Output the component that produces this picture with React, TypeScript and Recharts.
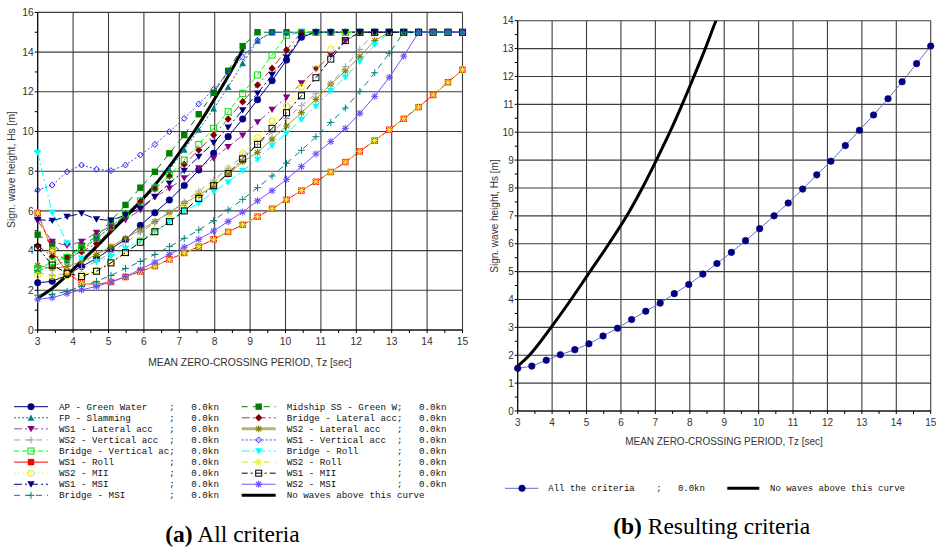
import React from 'react';
import { LineChart, Line, XAxis, YAxis, ReferenceLine } from 'recharts';

// ---------- data ----------
const tzValues = [3, 3.41, 3.83, 4.24, 4.66, 5.07, 5.48, 5.9, 6.31, 6.72, 7.14, 7.55, 7.97, 8.38, 8.79, 9.21, 9.62, 10.03, 10.45, 10.86, 11.28, 11.69, 12.1, 12.52, 12.93, 13.34, 13.76, 14.17, 14.59, 15];

const apGreenWater = [2.38, 2.45, 2.77, 3.2, 3.6, 4.1, 4.55, 5.27, 5.91, 6.55, 7.28, 8.06, 8.9, 9.74, 10.63, 11.6, 12.56, 13.6, 14.75, 15, 15, 15, 15, 15, 15, 15, 15, 15, 15, 15];
const fpSlamming = [3.0, 3.2, 3.5, 4.0, 4.6, 5.2, 5.85, 6.55, 7.3, 8.06, 9.08, 10.08, 11.15, 12.24, 13.43, 14.57, 15, 15, 15, 15, 15, 15, 15, 15, 15, 15, 15, 15, 15, 15];
const ws1LateralAcc = [5.5, 4.45, 4.25, 4.45, 4.9, 5.2, 5.55, 6.05, 6.7, 7.14, 7.65, 8.15, 8.65, 9.23, 9.8, 10.47, 11.1, 11.72, 12.43, 13.13, 13.85, 14.55, 15, 15, 15, 15, 15, 15, 15, 15];
const ws2VerticalAcc = [2.9, 2.75, 2.85, 3.1, 3.45, 3.9, 4.4, 4.9, 5.4, 5.9, 6.45, 7.0, 7.55, 8.15, 8.75, 9.35, 9.95, 10.65, 11.3, 11.9, 12.4, 13.27, 14.14, 15, 15, 15, 15, 15, 15, 15];
const bridgeVerticalAc = [3.06, 3.44, 3.66, 4.12, 4.62, 5.2, 5.85, 6.5, 7.15, 7.81, 8.56, 9.35, 10.16, 11.0, 11.92, 12.85, 13.85, 14.85, 15, 15, 15, 15, 15, 15, 15, 15, 15, 15, 15, 15];
const ws1Roll = [5.9, 4.0, 2.9, 2.35, 2.3, 2.42, 2.67, 2.95, 3.22, 3.56, 3.88, 4.2, 4.57, 4.94, 5.3, 5.71, 6.11, 6.56, 7.02, 7.47, 7.96, 8.46, 9.0, 9.54, 10.09, 10.64, 11.23, 11.84, 12.48, 13.11];
const ws2Mii = [2.75, 2.7, 2.72, 2.8, 3.0, 3.4, 3.92, 4.5, 5.05, 5.6, 6.2, 6.85, 7.44, 8.15, 8.9, 9.69, 10.53, 11.28, 12.23, 13.18, 14.14, 15, 15, 15, 15, 15, 15, 15, 15, 15];
const ws1Msi = [5.56, 5.51, 5.71, 5.88, 5.58, 5.52, 5.79, 6.13, 6.72, 7.39, 8.03, 8.73, 9.44, 10.21, 11.08, 11.92, 12.85, 13.73, 14.8, 15, 15, 15, 15, 15, 15, 15, 15, 15, 15, 15];
const bridgeMsi = [1.75, 1.8, 1.95, 2.2, 2.45, 2.75, 3.1, 3.45, 3.8, 4.2, 4.62, 5.04, 5.51, 6.05, 6.58, 7.17, 7.76, 8.4, 9.05, 9.74, 10.46, 11.18, 12.02, 12.96, 13.94, 15, 15, 15, 15, 15];
const midshipGreenW = [4.8, 4.35, 3.65, 4.25, 4.7, 5.5, 6.3, 7.17, 7.97, 8.9, 9.82, 10.87, 11.95, 13.06, 14.3, 15, 15, 15, 15, 15, 15, 15, 15, 15, 15, 15, 15, 15, 15, 15];
const bridgeLateralAcc = [4.25, 3.7, 3.65, 3.95, 4.35, 5.05, 5.85, 6.45, 7.1, 7.76, 8.35, 9.07, 9.82, 10.63, 11.5, 12.34, 13.18, 14.1, 15, 15, 15, 15, 15, 15, 15, 15, 15, 15, 15, 15];
const ws2LateralAcc = [3.25, 3.1, 3.2, 3.44, 3.8, 4.2, 4.62, 5.04, 5.46, 5.92, 6.38, 6.8, 7.25, 7.85, 8.48, 8.95, 9.61, 10.28, 10.95, 11.62, 12.39, 13.05, 13.77, 14.58, 15, 15, 15, 15, 15, 15];
const ws1VerticalAcc = [7.05, 7.3, 7.97, 8.31, 8.1, 8.03, 8.31, 8.82, 9.35, 9.99, 10.66, 11.39, 12.12, 12.95, 13.75, 14.6, 15, 15, 15, 15, 15, 15, 15, 15, 15, 15, 15, 15, 15, 15];
const bridgeRoll = [8.93, 5.92, 4.37, 3.61, 3.44, 3.69, 4.11, 4.53, 4.95, 5.46, 6.0, 6.38, 6.97, 7.44, 8.02, 8.6, 9.29, 9.91, 10.6, 11.27, 12.04, 12.73, 13.52, 14.36, 15, 15, 15, 15, 15, 15];
const ws2Roll = [5.9, 4.0, 2.9, 2.35, 2.3, 2.42, 2.67, 2.95, 3.22, 3.56, 3.88, 4.2, 4.57, 4.94, 5.3, 5.71, 6.11, 6.56, 7.02, 7.47, 7.96, 8.46, 9.0, 9.54, 10.09, 10.64, 11.23, 11.84, 12.48, 13.11];
const ws1Mii = [4.15, 3.27, 2.86, 2.7, 2.96, 3.38, 3.9, 4.42, 4.95, 5.46, 6.0, 6.63, 7.27, 7.89, 8.62, 9.35, 10.16, 10.95, 11.8, 12.71, 13.65, 14.58, 15, 15, 15, 15, 15, 15, 15, 15];
const ws2Msi = [1.55, 1.63, 1.84, 2.02, 2.2, 2.42, 2.7, 3.05, 3.42, 3.81, 4.17, 4.57, 4.99, 5.47, 5.94, 6.51, 7.02, 7.59, 8.23, 8.87, 9.49, 10.16, 10.92, 11.77, 12.73, 13.8, 15, 15, 15, 15];

const allCriteria = [1.53, 1.61, 1.82, 2.02, 2.2, 2.41, 2.69, 2.97, 3.28, 3.58, 3.87, 4.21, 4.54, 4.91, 5.29, 5.69, 6.11, 6.54, 7.0, 7.46, 7.96, 8.47, 8.96, 9.52, 10.07, 10.62, 11.2, 11.81, 12.46, 13.09];

const limitTz = [3, 3.34, 3.97, 4.55, 5.1, 5.65, 6.17, 6.62, 7.03, 7.42, 7.78, 8.12, 8.45, 8.76, 8.81];
const limitHs = [1.61, 2, 3, 4, 5, 6, 7, 8, 9, 10, 11, 12, 13, 14, 14.15];

// grid values and tick values (minor ticks carry no label)
const xGrid = [3, 4, 5, 6, 7, 8, 9, 10, 11, 12, 13, 14, 15];
const xTicksMinor = [3, 3.5, 4, 4.5, 5, 5.5, 6, 6.5, 7, 7.5, 8, 8.5, 9, 9.5, 10, 10.5, 11, 11.5, 12, 12.5, 13, 13.5, 14, 14.5, 15];
const yGridLeft = [0, 2, 4, 6, 8, 10, 12, 14, 16];
const yTicksLeft = [0, 1, 2, 3, 4, 5, 6, 7, 8, 9, 10, 11, 12, 13, 14, 15, 16];
const yGridRight = [0, 1, 2, 3, 4, 5, 6, 7, 8, 9, 10, 11, 12, 13, 14];
const yTicksRight = [0, 0.5, 1, 1.5, 2, 2.5, 3, 3.5, 4, 4.5, 5, 5.5, 6, 6.5, 7, 7.5, 8, 8.5, 9, 9.5, 10, 10.5, 11, 11.5, 12, 12.5, 13, 13.5, 14];

const xTitle = 'MEAN ZERO-CROSSING PERIOD, Tz [sec]';
const yTitle = 'Sign. wave height, Hs [m]';
const speedText = '0.0kn';
const limitName = 'No waves above this curve';
const allName = 'All the criteria';

type Marker = 'circle' | 'circleOpen' | 'triUp' | 'triDown' | 'plus' | 'sqOpen' | 'sqFilled' | 'diamond' | 'diamondOpen' | 'star';

interface SeriesDef {
  key: string;
  name: string;
  values: number[];
  color: string;
  lineColor: string;
  dash?: string;
  marker: Marker;
  legendWidth?: number;
  legendColor?: string;
}

const col1: SeriesDef[] = [
  { key: 's1', name: 'AP - Green Water', values: apGreenWater, color: '#000080', lineColor: '#000080', marker: 'circle' },
  { key: 's2', name: 'FP - Slamming', values: fpSlamming, color: '#008080', lineColor: '#008080', dash: '2 2', marker: 'triUp' },
  { key: 's3', name: 'WS1 - Lateral acc', values: ws1LateralAcc, color: '#800080', lineColor: '#a040a0', dash: '8 3 2 3', marker: 'triDown' },
  { key: 's4', name: 'WS2 - Vertical acc', values: ws2VerticalAcc, color: '#a0a0a4', lineColor: '#a0a0a4', dash: '6 5', marker: 'plus' },
  { key: 's5', name: 'Bridge - Vertical ac', values: bridgeVerticalAc, color: '#00e000', lineColor: '#00ff00', dash: '5 3', marker: 'sqOpen' },
  { key: 's6', name: 'WS1 - Roll', values: ws1Roll, color: '#ff0000', lineColor: '#ff0000', marker: 'sqFilled' },
  { key: 's7', name: 'WS2 - MII', values: ws2Mii, color: '#e8e800', lineColor: '#ffff00', dash: '2 2', marker: 'circleOpen' },
  { key: 's8', name: 'WS1 - MSI', values: ws1Msi, color: '#000080', lineColor: '#000080', dash: '8 3 2 3', marker: 'triDown' },
  { key: 's9', name: 'Bridge - MSI', values: bridgeMsi, color: '#008080', lineColor: '#008080', dash: '6 5', marker: 'plus' },
];

const col2: SeriesDef[] = [
  { key: 's10', name: 'Midship SS - Green W', values: midshipGreenW, color: '#008000', lineColor: '#008000', dash: '6 5', marker: 'sqFilled' },
  { key: 's11', name: 'Bridge - Lateral acc', values: bridgeLateralAcc, color: '#800000', lineColor: '#a04040', dash: '8 3 2 3', marker: 'diamond' },
  { key: 's12', name: 'WS2 - Lateral acc', values: ws2LateralAcc, color: '#808000', lineColor: '#9c9c40', marker: 'star', legendWidth: 3, legendColor: '#b8b478' },
  { key: 's13', name: 'WS1 - Vertical acc', values: ws1VerticalAcc, color: '#2020ff', lineColor: '#4040ff', dash: '2 2', marker: 'diamondOpen' },
  { key: 's14', name: 'Bridge - Roll', values: bridgeRoll, color: '#00ffff', lineColor: '#00ffff', dash: '8 3 2 3', marker: 'triDown' },
  { key: 's15', name: 'WS2 - Roll', values: ws2Roll, color: '#e8f040', lineColor: '#c8e020', dash: '6 5', marker: 'star' },
  { key: 's16', name: 'WS1 - MII', values: ws1Mii, color: '#000000', lineColor: '#000000', dash: '6 3 2 3', marker: 'sqOpen' },
  { key: 's17', name: 'WS2 - MSI', values: ws2Msi, color: '#6a50ff', lineColor: '#8050ff', marker: 'star' },
];

// drawing order: legend read row by row
const drawOrder: SeriesDef[] = [];
for (let k = 0; k < col1.length; k++) {
  drawOrder.push(col1[k]);
  if (col2[k]) drawOrder.push(col2[k]);
}

const rows = tzValues.map((tz, i) => {
  const r: Record<string, number> = { tz };
  drawOrder.forEach((s) => { r[s.key] = s.values[i]; });
  return r;
});
const rightRows = tzValues.map((tz, i) => ({ tz, all: allCriteria[i] }));
const limitRows = limitTz.map((tz, i) => ({ tz, hs: limitHs[i] }));

// ---------- markers ----------
function MarkerShape({ type, cx, cy, color }: { type: Marker; cx: number; cy: number; color: string }) {
  const s = 3.4;
  switch (type) {
    case 'circle':
      return <circle cx={cx} cy={cy} r={3.3} fill={color} stroke={color} strokeWidth={0.5} />;
    case 'circleOpen':
      return <circle cx={cx} cy={cy} r={3} fill="none" stroke={color} strokeWidth={1} />;
    case 'triUp':
      return <polygon points={`${cx - s},${cy + s * 0.85} ${cx + s},${cy + s * 0.85} ${cx},${cy - s}`} fill={color} />;
    case 'triDown':
      return <polygon points={`${cx - s - 0.3},${cy - s * 0.85} ${cx + s + 0.3},${cy - s * 0.85} ${cx},${cy + s}`} fill={color} />;
    case 'sqFilled':
      return <rect x={cx - 3.2} y={cy - 3.2} width={6.4} height={6.4} fill={color} />;
    case 'sqOpen':
      return <rect x={cx - 3} y={cy - 3} width={6} height={6} fill="none" stroke={color} strokeWidth={1} />;
    case 'diamond':
      return <polygon points={`${cx},${cy - 3.8} ${cx + 3.6},${cy} ${cx},${cy + 3.8} ${cx - 3.6},${cy}`} fill={color} />;
    case 'diamondOpen':
      return <polygon points={`${cx},${cy - 3} ${cx + 2.8},${cy} ${cx},${cy + 3} ${cx - 2.8},${cy}`} fill="none" stroke={color} strokeWidth={1} />;
    case 'plus':
      return (
        <g stroke={color} strokeWidth={1}>
          <line x1={cx - 3.5} y1={cy} x2={cx + 3.5} y2={cy} />
          <line x1={cx} y1={cy - 3.5} x2={cx} y2={cy + 3.5} />
        </g>
      );
    case 'star':
    default:
      return (
        <g stroke={color} strokeWidth={1.1}>
          <line x1={cx - 3.5} y1={cy} x2={cx + 3.5} y2={cy} />
          <line x1={cx} y1={cy - 3.5} x2={cx} y2={cy + 3.5} />
          <line x1={cx - 2.5} y1={cy - 2.5} x2={cx + 2.5} y2={cy + 2.5} />
          <line x1={cx - 2.5} y1={cy + 2.5} x2={cx + 2.5} y2={cy - 2.5} />
        </g>
      );
  }
}

const makeDot = (key: string, type: Marker, color: string) => (props: any) => {
  const { cx, cy, index } = props;
  if (cx == null || cy == null) return <g key={`${key}-${index}`} />;
  return (
    <g key={`${key}-${index}`}>
      <MarkerShape type={type} cx={cx} cy={cy} color={color} />
    </g>
  );
};

const axisFont = 'Liberation Sans, Arial, sans-serif';
const monoFont = 'Liberation Mono, Courier New, monospace';
const tickStyle = { fontSize: 10.3, fill: '#333', fontFamily: axisFont };
const gridColor = '#3c3c3c';

const intLabel = (v: number) => (Number.isInteger(v) ? String(v) : '');
const evenLabel = (v: number) => (v % 2 === 0 ? String(v) : '');

function LeftChart() {
  return (
    <LineChart width={470} height={370} data={rows} margin={{ top: 12.4, right: 7.5, left: 7.7, bottom: 0 }}>
      <XAxis
        dataKey="tz" type="number" domain={[3, 15]} ticks={xTicksMinor} interval={0} tickFormatter={intLabel}
        height={40} tickSize={3} tickMargin={5}
        axisLine={{ stroke: '#000' }} tickLine={{ stroke: '#000' }} tick={tickStyle}
      />
      <YAxis
        type="number" domain={[0, 16]} ticks={yTicksLeft} interval={0} tickFormatter={evenLabel}
        width={30} tickSize={3} tickMargin={1}
        axisLine={{ stroke: '#000' }} tickLine={{ stroke: '#000' }} tick={tickStyle}
      />
      {xGrid.map((v) => <ReferenceLine key={`gx${v}`} x={v} stroke={gridColor} strokeWidth={1.1} />)}
      {yGridLeft.map((v) => <ReferenceLine key={`gy${v}`} y={v} stroke={gridColor} strokeWidth={1.1} />)}
      {drawOrder.map((s) => (
        <Line
          key={s.key} dataKey={s.key} type="linear" stroke={s.lineColor} strokeWidth={1}
          strokeDasharray={s.dash} dot={makeDot(s.key, s.marker, s.color)} activeDot={false}
          isAnimationActive={false}
        />
      ))}
      <Line data={limitRows} dataKey="hs" type="monotone" stroke="#000" strokeWidth={3} dot={false} activeDot={false} isAnimationActive={false} />
    </LineChart>
  );
}

function RightChart() {
  return (
    <LineChart width={456} height={450} data={rightRows} margin={{ top: 20.7, right: 5.3, left: 7.7, bottom: 0 }}>
      <XAxis
        dataKey="tz" type="number" domain={[3, 15]} ticks={xTicksMinor} interval={0} tickFormatter={intLabel}
        height={39} tickSize={3} tickMargin={5}
        axisLine={{ stroke: '#000' }} tickLine={{ stroke: '#000' }} tick={{ ...tickStyle, fontSize: 10 }}
      />
      <YAxis
        type="number" domain={[0, 14]} ticks={yTicksRight} interval={0} allowDataOverflow tickFormatter={intLabel}
        width={30} tickSize={3} tickMargin={1}
        axisLine={{ stroke: '#000' }} tickLine={{ stroke: '#000' }} tick={{ ...tickStyle, fontSize: 10 }}
      />
      {xGrid.map((v) => <ReferenceLine key={`gx${v}`} x={v} stroke={gridColor} strokeWidth={1.1} />)}
      {yGridRight.map((v) => <ReferenceLine key={`gy${v}`} y={v} stroke={gridColor} strokeWidth={1.1} />)}
      <Line data={limitRows} dataKey="hs" type="monotone" stroke="#000" strokeWidth={3} dot={false} activeDot={false} isAnimationActive={false} />
      <Line
        dataKey="all" type="linear" stroke="#6a6ac4" strokeWidth={1}
        dot={makeDot('all', 'circle', '#000080')} activeDot={false} isAnimationActive={false}
      />
    </LineChart>
  );
}

function LegendRow({ s, x, y }: { s: SeriesDef; x: number; y: number }) {
  return (
    <g>
      <line x1={x} y1={y} x2={x + 34} y2={y} stroke={s.legendColor ?? s.lineColor} strokeWidth={s.legendWidth ?? 1} strokeDasharray={s.dash} />
      <MarkerShape type={s.marker} cx={x + 17} cy={y} color={s.color} />
      <text x={x + 45} y={y + 3} fontFamily={monoFont} fontSize={9.2} fill="#111" xmlSpace="preserve" style={{ whiteSpace: 'pre' }}>
        {`${s.name.padEnd(20)};   ${speedText}`}
      </text>
    </g>
  );
}

function Overlay() {
  const rowY = (k: number) => 406.7 + k * 11.08;
  return (
    <svg width={936} height={548} style={{ position: 'absolute', left: 0, top: 0, pointerEvents: 'none' }}>
      <text x={250} y={362} textAnchor="middle" dominantBaseline="central" fontFamily={axisFont} fontSize={10.3} fill="#333">{xTitle}</text>
      <text x={11} y={169.5} textAnchor="middle" dominantBaseline="central" fontFamily={axisFont} fontSize={10.3} fill="#333" transform="rotate(-90 11 169.5)">{yTitle}</text>
      <text x={724} y={441.7} textAnchor="middle" dominantBaseline="central" fontFamily={axisFont} fontSize={10} fill="#333">{xTitle}</text>
      <text x={494} y={216} textAnchor="middle" dominantBaseline="central" fontFamily={axisFont} fontSize={10} fill="#333" transform="rotate(-90 494 216)">{yTitle}</text>

      {col1.map((s, k) => <LegendRow key={s.key} s={s} x={14} y={rowY(k)} />)}
      {col2.map((s, k) => <LegendRow key={s.key} s={s} x={241.7} y={rowY(k)} />)}
      <line x1={241.7} y1={rowY(8)} x2={275.7} y2={rowY(8)} stroke="#000" strokeWidth={3} />
      <text x={286.7} y={rowY(8) + 3} fontFamily={monoFont} fontSize={9.2} fill="#111">{limitName}</text>

      <line x1={505} y1={488.3} x2={538.3} y2={488.3} stroke="#6a6ac4" strokeWidth={1} />
      <MarkerShape type="circle" cx={522} cy={488.3} color="#000080" />
      <text x={548.3} y={491.3} fontFamily={monoFont} fontSize={9} fill="#111" xmlSpace="preserve" style={{ whiteSpace: 'pre' }}>
        {`${allName.padEnd(20)};   ${speedText}`}
      </text>
      <line x1={727.3} y1={488.3} x2={759.3} y2={488.3} stroke="#000" strokeWidth={3} />
      <text x={770} y={491.3} fontFamily={monoFont} fontSize={9} fill="#111">{limitName}</text>

      <text x={232.5} y={542} textAnchor="middle" fontFamily="Liberation Serif, Times New Roman, serif" fontSize={23.5} fill="#000">
        <tspan fontWeight="bold">(a)</tspan> All criteria
      </text>
      <text x={711.7} y={533.5} textAnchor="middle" fontFamily="Liberation Serif, Times New Roman, serif" fontSize={23.5} fill="#000">
        <tspan fontWeight="bold">(b)</tspan> Resulting criteria
      </text>
    </svg>
  );
}

export default function App() {
  return (
    <div style={{ position: 'absolute', left: 0, top: 0, width: 936, height: 548, background: '#fff', overflow: 'hidden' }}>
      <div style={{ position: 'absolute', left: 0, top: 0 }}>
        <LeftChart />
      </div>
      <div style={{ position: 'absolute', left: 480, top: 0 }}>
        <RightChart />
      </div>
      <Overlay />
    </div>
  );
}
